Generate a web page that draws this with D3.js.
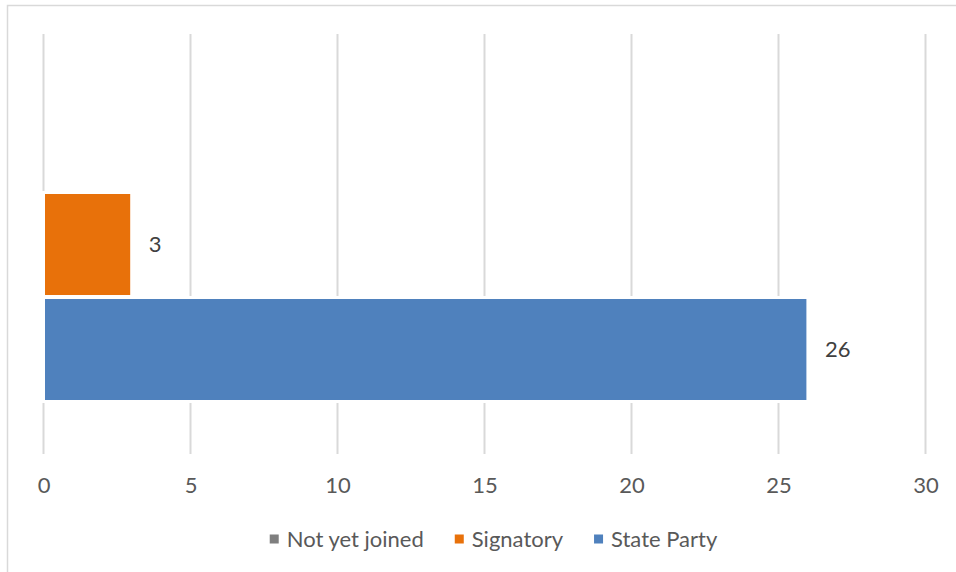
<!DOCTYPE html>
<html>
<head>
<meta charset="utf-8">
<script src="https://cdn.jsdelivr.net/npm/d3@7"></script>
<style>
  html, body { margin: 0; padding: 0; background: #fff; }
  svg { display: block; font-family: Lato, "Open Sans", sans-serif; }
</style>
</head>
<body>
<svg id="chart" width="956" height="572"></svg>
<script>
const categories = [""];
const seriesNames = ["Not yet joined", "Signatory", "State Party"];
const seriesValues = [0, 3, 26];
const seriesColors = ["#7f7f7f", "#e8710a", "#4f81bd"];
const tickValues = [0, 5, 10, 15, 20, 25, 30];

const svg = d3.select("#chart");
const W = 956, H = 572;
const plot = { left: 43.5, right: 925.5, top: 34, bottom: 454 };
const FS = 22;

// frame
svg.append("rect")
  .attr("x", 7.5).attr("y", 5.5)
  .attr("width", W + 10).attr("height", H + 10)
  .attr("fill", "#fff").attr("stroke", "#d9d9d9").attr("stroke-width", 1.5);

const x = d3.scaleLinear().domain([0, 30]).range([plot.left, plot.right]);
const y0 = d3.scaleBand().domain(categories).range([plot.top, plot.bottom]);
const y1 = d3.scaleBand().domain(seriesNames)
  .range([y0.bandwidth() * 0.1274, y0.bandwidth() * 0.875])
  .paddingInner(0.0095);

// gridlines
svg.append("g").selectAll("line").data(tickValues).join("line")
  .attr("x1", d => x(d)).attr("x2", d => x(d))
  .attr("y1", plot.top).attr("y2", plot.bottom)
  .attr("stroke", "#d9d9d9").attr("stroke-width", 2);

// bars
const data = seriesNames.map((s, i) => ({ cat: categories[0], name: s, value: seriesValues[i], color: seriesColors[i] }));
const g = svg.append("g");
g.selectAll("rect").data(data.filter(d => d.value > 0)).join("rect")
  .attr("x", x(0))
  .attr("y", d => y0(d.cat) + y1(d.name))
  .attr("width", d => x(d.value) - x(0))
  .attr("height", y1.bandwidth())
  .attr("fill", d => d.color)
  .attr("stroke", "#fff").attr("stroke-width", 3);

// data labels
g.selectAll("text").data(data.filter(d => d.value > 0)).join("text")
  .attr("x", d => x(d.value) + 17)
  .attr("y", d => y0(d.cat) + y1(d.name) + y1.bandwidth() / 2)
  .attr("dy", "0.35em")
  .attr("font-size", FS)
  .attr("fill", "#404040")
  .text(d => d.value);

// axis tick labels
const axis = d3.axisBottom(x).tickValues(tickValues).tickSize(0).tickPadding(0);
const ax = svg.append("g").attr("transform", `translate(0,${485.5})`).call(axis);
ax.select(".domain").remove();
ax.selectAll("text").attr("font-size", FS).attr("fill", "#595959")
  .attr("font-family", "Lato, 'Open Sans', sans-serif").attr("dy", "0.35em").attr("y", 0);

// legend
const leg = svg.append("g");
const items = leg.selectAll("g").data(seriesNames).join("g");
items.append("rect").attr("width", 9).attr("height", 9).attr("y", -4.5)
  .attr("fill", (d, i) => seriesColors[i]);
items.append("text").attr("x", 17).attr("dy", "0.35em")
  .attr("font-size", FS).attr("fill", "#595959").text(d => d);
const widths = [];
items.each(function () {
  widths.push(17 + this.querySelector("text").getComputedTextLength());
});
const gap = 31;
const total = d3.sum(widths) + gap * (widths.length - 1);
let start = 493.5 - total / 2;
items.attr("transform", (d, i) => {
  const t = `translate(${start},539)`;
  start += widths[i] + gap;
  return t;
});
</script>
</body>
</html>
